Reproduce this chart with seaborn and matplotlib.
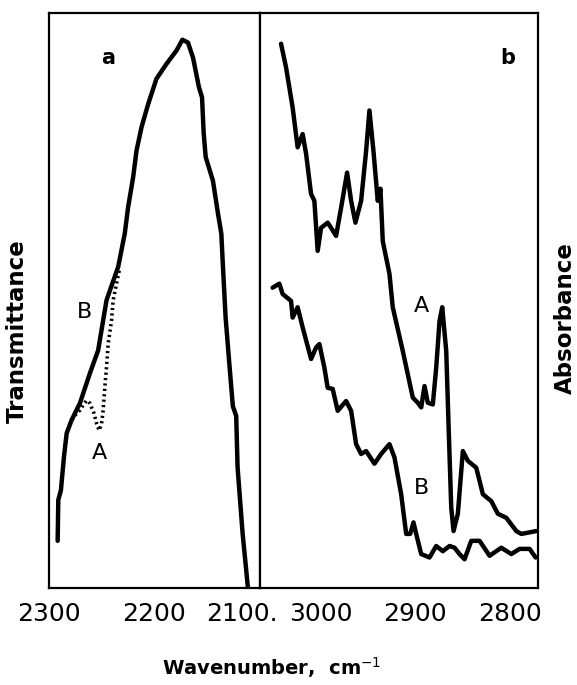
import numpy as np
import pandas as pd
import matplotlib
matplotlib.use('Agg')
import matplotlib.pyplot as plt
import matplotlib.transforms as mtransforms
import seaborn as sns

# Panel a: transmittance, curve B (solid) and curve A (dotted)
a_B_wn = [2292.0, 2291.4, 2288.9, 2286.0, 2283.4, 2278.7, 2270.8, 2261.3, 2253.4, 2245.4,
          2242.2, 2234.3, 2228.0, 2224.8, 2220.0, 2216.8, 2212.0, 2205.7, 2197.8, 2188.2,
          2178.7, 2173.0, 2167.7, 2162.9, 2157.2, 2154.3, 2152.7, 2150.8, 2143.9, 2139.1,
          2135.9, 2134.3, 2131.8, 2128.0, 2124.9, 2121.7, 2120.4, 2115.6, 2110.5]
a_B_val = [8.2, 15.3, 17.0, 22.8, 26.9, 29.2, 32.1, 37.3, 41.3, 50.0,
           51.7, 55.8, 61.6, 66.2, 71.4, 76.0, 80.1, 84.1, 88.5, 91.1,
           93.4, 95.3, 94.8, 92.2, 87.0, 85.3, 79.0, 74.9, 70.8, 65.1,
           61.6, 55.7, 47.0, 38.4, 31.6, 29.9, 21.0, 9.5, 0.0]
a_A_wn = [2278.4, 2275.5, 2270.8, 2267.6, 2264.4, 2261.3, 2257.4, 2254.9, 2252.4, 2250.1,
          2248.6, 2247.0, 2245.4, 2243.8, 2240.6, 2239.1, 2236.5, 2232.7]
a_A_val = [29.2, 30.0, 30.9, 31.8, 32.6, 32.1, 30.4, 28.6, 27.4, 28.6,
           30.9, 34.9, 38.4, 42.5, 46.5, 50.0, 52.3, 55.7]

# Panel b: absorbance, curves A (upper) and B (lower)
b_A_wn = [3029.0, 3024.0, 3017.4, 3012.4, 3007.4, 3004.0, 2999.0, 2995.7, 2992.4, 2989.0,
          2982.4, 2979.0, 2974.0, 2969.0, 2963.0, 2959.0, 2954.7, 2949.0, 2944.0, 2940.7,
          2936.7, 2932.4, 2929.7, 2927.4, 2920.7, 2917.4, 2907.4, 2897.4, 2892.4, 2889.0,
          2885.7, 2882.4, 2877.4, 2874.0, 2870.7, 2868.0, 2864.0, 2861.4, 2859.0, 2856.7,
          2852.4, 2847.4, 2842.4, 2834.0, 2827.4, 2819.0, 2812.4, 2804.0, 2794.0, 2789.0,
          2774.0]
b_A_val = [94.6, 90.5, 83.5, 76.6, 78.9, 75.5, 68.5, 67.3, 58.6, 62.6,
           63.5, 62.6, 61.2, 66.1, 72.2, 67.3, 63.5, 67.3, 76.0, 83.0,
           76.0, 67.3, 69.4, 60.3, 54.6, 48.8, 41.2, 33.1, 32.2, 31.4,
           35.1, 32.2, 31.9, 38.3, 46.4, 48.8, 41.2, 26.8, 14.0, 9.9,
           12.9, 23.8, 22.1, 20.9, 16.3, 15.1, 12.9, 12.2, 9.9, 9.4,
           9.9]
b_B_wn = [3037.4, 3030.7, 3027.4, 3019.0, 3017.4, 3012.4, 3007.4, 2999.0, 2994.0, 2990.7,
          2985.7, 2982.4, 2977.4, 2972.4, 2964.0, 2959.0, 2954.0, 2949.0, 2944.0, 2935.7,
          2929.0, 2920.7, 2915.7, 2909.0, 2904.0, 2900.0, 2896.7, 2894.0, 2889.0, 2880.7,
          2874.0, 2867.4, 2860.7, 2855.7, 2850.7, 2845.7, 2839.0, 2830.7, 2820.7, 2809.0,
          2799.0, 2790.7, 2780.7, 2774.7]
b_B_val = [52.2, 52.9, 51.1, 49.9, 47.0, 48.8, 45.3, 39.8, 41.8, 42.4,
           38.3, 34.8, 34.6, 30.8, 32.5, 30.8, 25.0, 23.3, 23.8, 21.6,
           23.3, 25.0, 22.7, 16.3, 9.4, 9.4, 11.4, 9.4, 5.9, 5.3,
           7.3, 6.4, 7.3, 7.0, 5.9, 5.0, 8.2, 8.2, 5.6, 7.0,
           5.9, 6.8, 6.8, 5.3]

a_ticks = [2300, 2200, 2100]
a_labels = ['2300', '2200', '2100.']
b_ticks = [3000, 2900, 2800]
b_labels = ['3000', '2900', '2800']

sns.set_style('white')
plt.rcParams['font.family'] = ['DejaVu Sans']
plt.rcParams['text.color'] = 'black'

fig = plt.figure(figsize=(5.77, 6.85), dpi=100)
gs = fig.add_gridspec(1, 2, width_ratios=[210.7, 278.3], wspace=0,
                      left=0.0854, right=0.933, top=0.9815, bottom=0.1416)
ax1 = fig.add_subplot(gs[0, 0])
ax2 = fig.add_subplot(gs[0, 1])

lw = 3.2
sns.lineplot(x=a_B_wn, y=a_B_val, sort=False, estimator=None, color='black', lw=lw, ax=ax1)
sns.lineplot(x=a_A_wn, y=a_A_val, sort=False, estimator=None, color='black', lw=2.6,
             linestyle=(0, (0.6, 0.9)), ax=ax1)
sns.lineplot(x=b_A_wn, y=b_A_val, sort=False, estimator=None, color='black', lw=lw, ax=ax2)
sns.lineplot(x=b_B_wn, y=b_B_val, sort=False, estimator=None, color='black', lw=lw, ax=ax2)

ax1.set_xlim(2300, 2099)
ax2.set_xlim(3050, 2772)
for ax, ticks, labels in [(ax1, a_ticks, a_labels), (ax2, b_ticks, b_labels)]:
    ax.set_ylim(0, 100)
    ax.set_yticks([])
    ax.set_xticks(ticks)
    ax.set_xticklabels(labels, fontsize=18, color='black')
    ax.tick_params(axis='x', direction='out', length=3, width=1.5, pad=7, colors='black')
    for s in ax.spines.values():
        s.set_linewidth(1.6)
        s.set_color('black')

# nudge crowded tick labels apart, as in the original
def nudge(label, dx_px):
    off = mtransforms.ScaledTranslation(dx_px / 100, 0, fig.dpi_scale_trans)
    label.set_transform(label.get_transform() + off)

nudge(ax1.get_xticklabels()[2], -17)
nudge(ax2.get_xticklabels()[0], 11)
nudge(ax2.get_xticklabels()[1], 5)

# panel letters and curve labels
ax1.text(2244, 92.2, 'a', fontsize=15, fontweight='bold', ha='center', va='center')
ax2.text(2803, 92.2, 'b', fontsize=15, fontweight='bold', ha='center', va='center')
ax1.text(2266, 47.9, 'B', fontsize=16, ha='center', va='center')
ax1.text(2252.6, 23.4, 'A', fontsize=16, ha='center', va='center')
ax2.text(2888.3, 49.1, 'A', fontsize=16, ha='center', va='center')
ax2.text(2888.3, 17.3, 'B', fontsize=16, ha='center', va='center')

fig.text(17 / 577, 1 - 331 / 685, 'Transmittance', rotation=90, fontsize=16.5,
         fontweight='bold', ha='center', va='center')
fig.text(565 / 577, 1 - 318 / 685, 'Absorbance', rotation=90, fontsize=16.5,
         fontweight='bold', ha='center', va='center')
fig.text(272 / 577, 1 - 668 / 685, 'Wavenumber,  cm$^{-1}$', fontsize=14,
         fontweight='bold', ha='center', va='center')

fig.savefig('out.png', dpi=100)
